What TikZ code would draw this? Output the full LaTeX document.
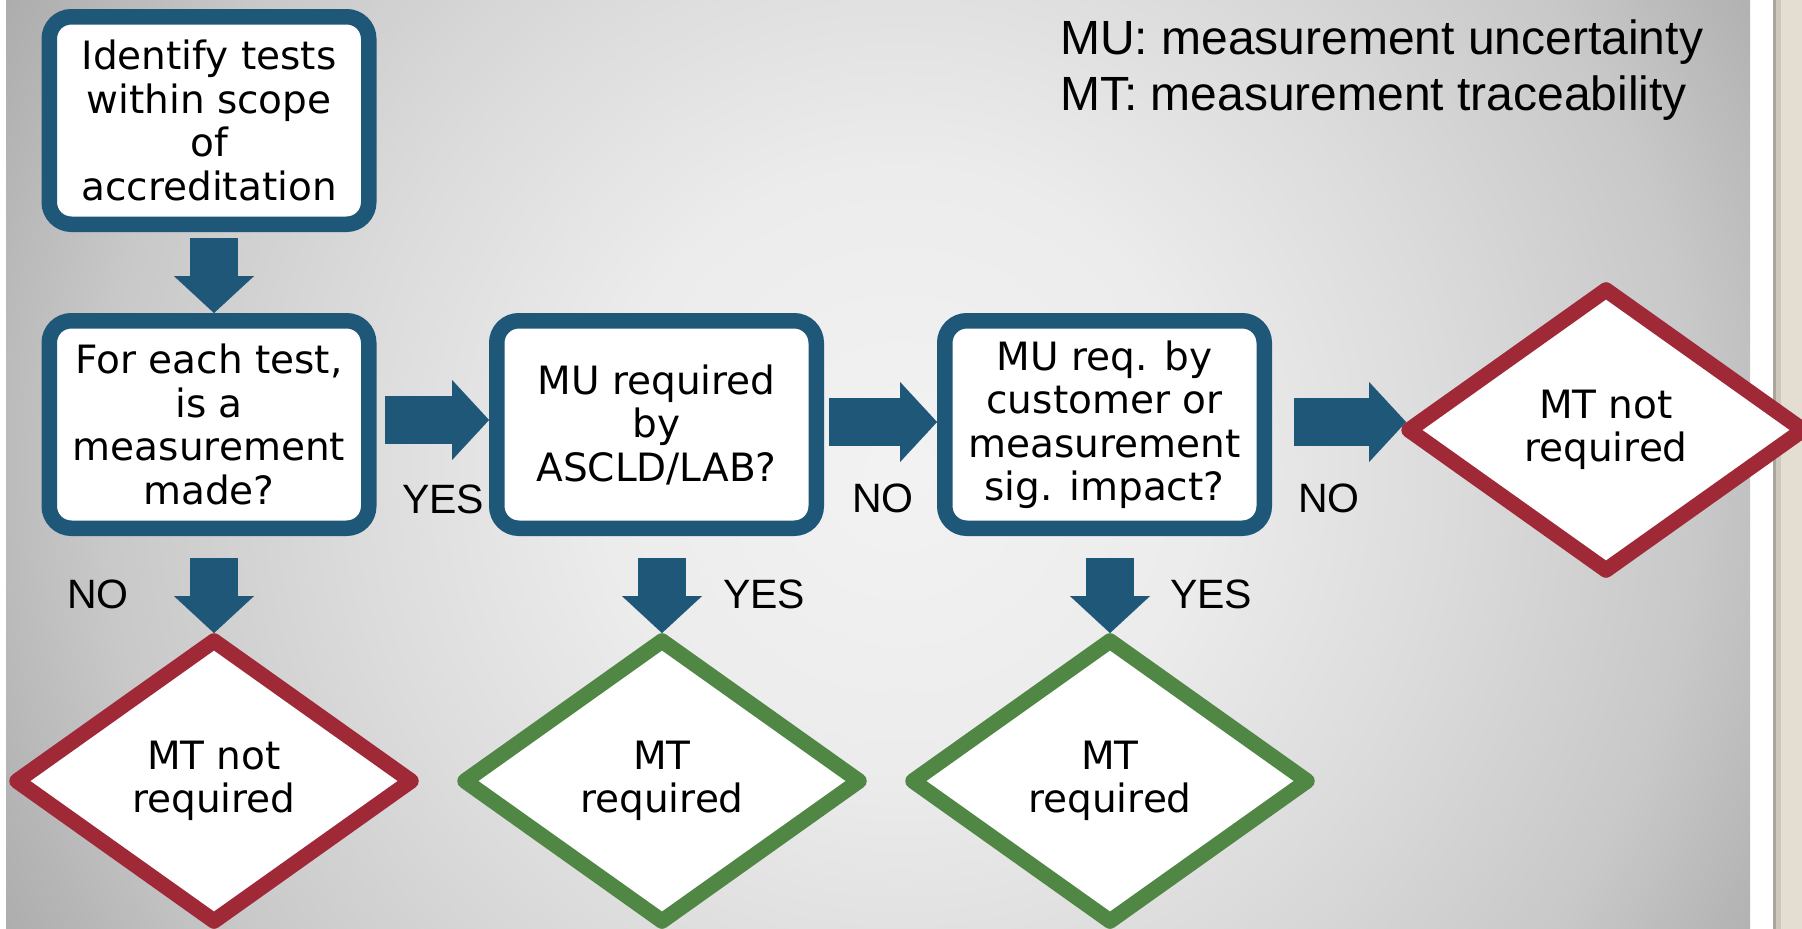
\documentclass[tikz,border=0pt]{standalone}
\usepackage{fontspec}
\setmainfont{DejaVu Sans}
\newfontfamily\arialf{Liberation Sans}
\usetikzlibrary{arrows.meta,shapes.geometric,calc}
\definecolor{boxblue}{RGB}{31,87,121}
\definecolor{redd}{RGB}{160,41,56}
\definecolor{greend}{RGB}{80,135,68}
\definecolor{beige}{RGB}{227,221,210}
\definecolor{edgegray}{RGB}{170,166,158}
\definecolor{edgelight}{RGB}{205,200,190}
\pgfdeclareradialshading{bgshade}{\pgfpoint{0bp}{0bp}}{rgb(0bp)=(0.95,0.95,0.95); rgb(7.5bp)=(0.925,0.925,0.925); rgb(13.75bp)=(0.86,0.86,0.86); rgb(20bp)=(0.785,0.785,0.785); rgb(23.75bp)=(0.705,0.705,0.705); rgb(26.25bp)=(0.66,0.66,0.66); rgb(50bp)=(0.65,0.65,0.65)}
\tikzset{
  box/.style={draw=boxblue, line width=15.5pt, fill=white, rounded corners=22pt,
    minimum width=319.5pt, minimum height=207.5pt, inner sep=0pt, align=center,
    font=\fontsize{39}{43.5}\selectfont},
  dia/.style={diamond, line width=15.5pt, fill=white, line join=round,
    minimum width=394pt, minimum height=280pt, outer sep=0pt, inner sep=0pt,
    align=center, font=\fontsize{39}{43.5}\selectfont},
  reddia/.style={dia, draw=redd},
  greendia/.style={dia, draw=greend},
  blockarrow/.style={draw=boxblue, line width=48pt,
    -{Triangle[length=37pt,width=80pt,line width=0.01pt]}},
  lbl/.style={font=\arialf\fontsize{41}{49}\selectfont, anchor=base west, inner sep=0pt},
  legendtxt/.style={font=\arialf\fontsize{48}{56}\selectfont, anchor=base west, inner sep=0pt}
}
\begin{document}
\begin{tikzpicture}[x=1pt,y=1pt]
\useasboundingbox (0,0) rectangle (1802,-929);
% background panel
\fill[white] (0,0) rectangle (1802,-929);
\begin{scope}
  \clip (6,0) rectangle (1750,-929);
  \shade[shading=bgshade] (-100,530) rectangle (1900,-1470);
\end{scope}
\fill[edgegray] (1773,0) rectangle (1776,-929);
\fill[edgelight] (1776,0) rectangle (1781,-929);
\fill[beige] (1781,0) rectangle (1802,-929);

% legend
\node[legendtxt] (leg1) at (1060,-54) {MU: measurement uncertainty};
\node[legendtxt] (leg2) at (1060,-110) {MT: measurement traceability};

% boxes
\node[box] (b1) at (209,-120.5) {Identify tests\\within scope\\of\\accreditation};
\node[box] (b2) at (209,-424.5) {For each test,\\is a\\measurement\\made?};
\node[box] (b3) at (656.5,-424.5) {MU required\\by\\ASCLD/LAB?};
\node[box] (b4) at (1104.5,-424.5) {MU req. by\\customer or\\measurement\\sig. impact?};

% diamonds
\node[reddia] (d1) at (214,-781) {MT not\\required};
\node[greendia] (d2) at (662,-781) {MT\\required};
\node[greendia] (d3) at (1110,-781) {MT\\required};
\node[reddia] (d4) at (1606,-430) {MT not\\required};

% arrows
\draw[blockarrow] ([xshift=5pt,yshift=-6pt]b1.south) -- ([xshift=5pt]b2.north);
\draw[blockarrow] ([xshift=5pt,yshift=-22pt]b2.south) -- ([yshift=8pt]d1.north);
\draw[blockarrow] ([xshift=5.5pt,yshift=-22pt]b3.south) -- ([yshift=8pt]d2.north);
\draw[blockarrow] ([xshift=5.5pt,yshift=-22pt]b4.south) -- ([yshift=8pt]d3.north);
\draw[blockarrow] ([xshift=8pt,yshift=4.5pt]b2.east) -- ([yshift=4.5pt]b3.west);
\draw[blockarrow] ([xshift=5pt,yshift=2.5pt]b3.east) -- ([yshift=2.5pt]b4.west);
\draw[blockarrow, shorten >=3pt] ([xshift=22pt,yshift=2.5pt]b4.east) -- ([yshift=2.5pt]b4.east -| d4.west);

% labels
\node[lbl] (yes1) at (402,-513) {YES};
\node[lbl] (no1) at (852,-512) {NO};
\node[lbl] (no2) at (1298,-512) {NO};
\node[lbl] (no0) at (67,-608) {NO};
\node[lbl] (yes2) at (723,-608) {YES};
\node[lbl] (yes3) at (1170,-608) {YES};
\end{tikzpicture}
\end{document}
